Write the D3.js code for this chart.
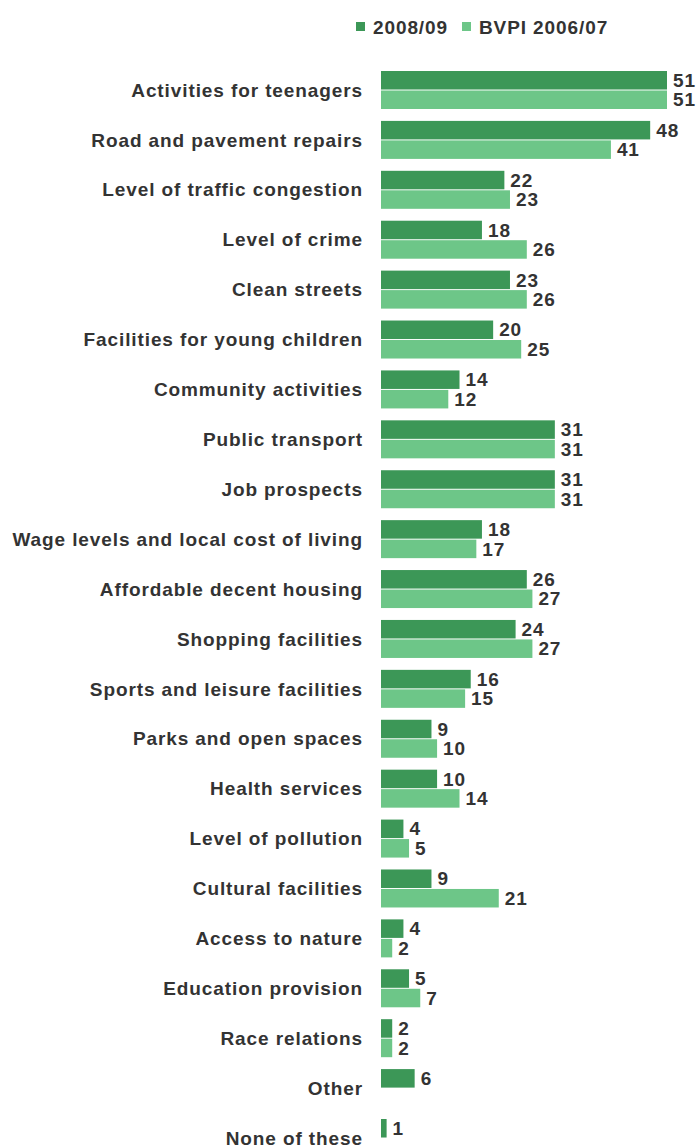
<!DOCTYPE html>
<html>
<head>
<meta charset="utf-8">
<script src="https://cdn.jsdelivr.net/npm/d3@7"></script>
<style>
  body { margin: 0; background: #fff; }
  text { font-family: "Liberation Sans", Arial, sans-serif; font-weight: bold; fill: #333; font-size: 19px; letter-spacing: 0.9px; }
</style>
</head>
<body>
<svg id="chart"></svg>
<script>
// Priorities for improvement: 2008/09 vs BVPI 2006/07

const categories = [
    "Activities for teenagers", "Road and pavement repairs", "Level of traffic congestion",
    "Level of crime", "Clean streets", "Facilities for young children", "Community activities",
    "Public transport", "Job prospects", "Wage levels and local cost of living",
    "Affordable decent housing", "Shopping facilities", "Sports and leisure facilities",
    "Parks and open spaces", "Health services", "Level of pollution", "Cultural facilities",
    "Access to nature", "Education provision", "Race relations", "Other", "None of these"
];
const seriesNames = ["2008/09", "BVPI 2006/07"];
const values0809 = [51, 48, 22, 18, 23, 20, 14, 31, 31, 18, 26, 24, 16, 9, 10, 4, 9, 4, 5, 2, 6, 1];
const valuesBvpi = [51, 41, 23, 26, 26, 25, 12, 31, 31, 17, 27, 27, 15, 10, 14, 5, 21, 2, 7, 2, null, null];

const width = 698, height = 1147;
const colors = ["#3c9757", "#6dc688"];

const svg = d3.select("#chart")
    .attr("width", width)
    .attr("height", height);

const x = d3.scaleLinear().domain([0, 51]).range([381, 667]);
const y = d3.scalePoint().domain(categories).range([90, 1138]);
const sub = d3.scaleBand().domain(seriesNames).range([-19, 19]).paddingInner(0.05);

// legend
const legend = svg.append("g").attr("transform", "translate(356, 0)");
const legendX = [0, 106];
seriesNames.forEach((name, i) => {
    legend.append("rect")
        .attr("x", legendX[i]).attr("y", 22)
        .attr("width", 9).attr("height", 9)
        .attr("fill", colors[i]);
    legend.append("text")
        .attr("x", legendX[i] + 17).attr("y", 34)
        .text(name);
});

// category labels
svg.append("g").selectAll("text")
    .data(categories)
    .enter().append("text")
    .attr("x", 363)
    .attr("y", d => y(d))
    .attr("dy", "0.35em")
    .attr("text-anchor", "end")
    .text(d => d);

const rows = [];
categories.forEach((c, i) => {
    rows.push({ cat: c, series: seriesNames[0], value: values0809[i], color: colors[0] });
    if (valuesBvpi[i] != null)
        rows.push({ cat: c, series: seriesNames[1], value: valuesBvpi[i], color: colors[1] });
});

const bars = svg.append("g");
bars.selectAll("rect")
    .data(rows)
    .enter().append("rect")
    .attr("x", x(0))
    .attr("y", d => y(d.cat) + sub(d.series))
    .attr("width", d => x(d.value) - x(0))
    .attr("height", sub.bandwidth())
    .attr("fill", d => d.color);

bars.selectAll("text")
    .data(rows)
    .enter().append("text")
    .attr("x", d => x(d.value) + 6)
    .attr("y", d => y(d.cat) + sub(d.series) + sub.bandwidth() / 2)
    .attr("dy", "0.35em")
    .text(d => d.value);
</script>
</body>
</html>
